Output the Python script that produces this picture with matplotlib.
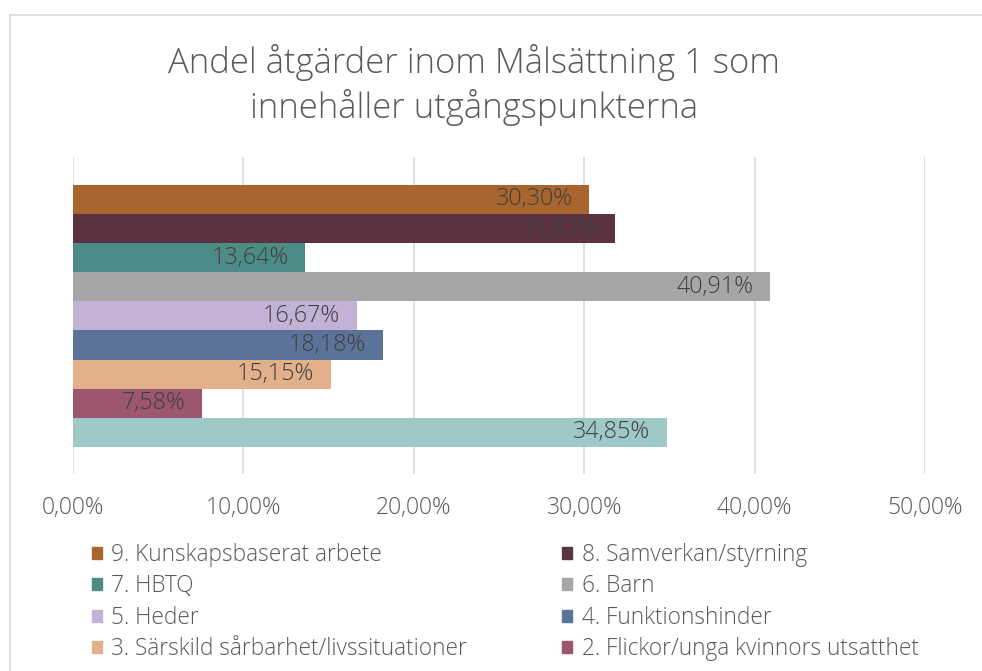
import matplotlib
matplotlib.use("Agg")
import matplotlib.pyplot as plt
from matplotlib.ticker import FuncFormatter
from matplotlib.patches import Patch
from matplotlib.lines import Line2D

# data, top bar first
categories = ["9. Kunskapsbaserat arbete", "8. Samverkan/styrning", "7. HBTQ",
              "6. Barn", "5. Heder", "4. Funktionshinder",
              "3. Särskild sårbarhet/livssituationer",
              "2. Flickor/unga kvinnors utsatthet", "1."]
values = [30.30, 31.82, 13.64, 40.91, 16.67, 18.18, 15.15, 7.58, 34.85]
colors = ["#A9652E", "#5B3242", "#4D8B87", "#A6A6A6", "#C3B1D6",
          "#5B7399", "#E2B08A", "#9C5670", "#9FC9C8"]
xticks = [0, 10, 20, 30, 40, 50]
title = "Andel åtgärder inom Målsättning 1 som\ninnehåller utgångspunkterna"

plt.rcParams['font.family'] = ['Open Sans', 'DejaVu Sans']
plt.rcParams['font.weight'] = 300
txt = "#595959"

W, H = 982, 671
fig = plt.figure(figsize=(W / 100, H / 100), dpi=100)
ax = fig.add_axes([73 / W, 1 - 474 / H, (925 - 73) / W, (474 - 157) / H])

n = len(values)
ypos = [n - i for i in range(n)]
bars = ax.barh(ypos, values, height=1.0, color=colors)

for y, v in zip(ypos, values):
    ax.annotate(f"{v:.2f}%".replace(".", ","), (v, y), xytext=(-12, 0),
                textcoords="offset points", ha="right", va="center",
                fontsize=16.8, color="#404040")

ax.set_xlim(0, 50)
ax.set_ylim(0.5 - 0.93, n + 0.5 + 0.96)
ax.set_xticks(xticks)
ax.xaxis.set_major_formatter(FuncFormatter(lambda v, p: f"{v:.2f}%".replace(".", ",")))
ax.set_yticks([])
ax.tick_params(axis="x", length=0, pad=16, labelsize=16.5, labelcolor=txt)
ax.grid(axis="x", color="#d9d9d9", linewidth=1.2)
ax.set_axisbelow(True)
for s in ax.spines.values():
    s.set_visible(False)

fig.text(474 / W, 1 - 85 / H, title, ha="center", va="center", fontsize=24.9,
         color=txt, linespacing=1.3)

# legend is cut off in the source, entry 1 not visible
handles = [Patch(color=c) for c in colors[:8]]
order = [0, 2, 4, 6, 1, 3, 5, 7]
fig.legend([handles[i] for i in order], [categories[i] for i in order],
           ncol=2, loc="upper left", bbox_to_anchor=(92 / W, 1 - 543 / H),
           frameon=False, fontsize=16.3, labelcolor=txt,
           handlelength=0.43, handleheight=0.43, handletextpad=0.43,
           labelspacing=0.33, columnspacing=4.2, borderaxespad=0, borderpad=0)

# chart frame
fig.add_artist(Line2D([10 / W, 1], [1 - 15 / H, 1 - 15 / H], color="#d9d9d9", lw=1.2))
fig.add_artist(Line2D([10 / W, 10 / W], [0, 1 - 15 / H], color="#d9d9d9", lw=1.2))

fig.savefig("out.png", dpi=100)
